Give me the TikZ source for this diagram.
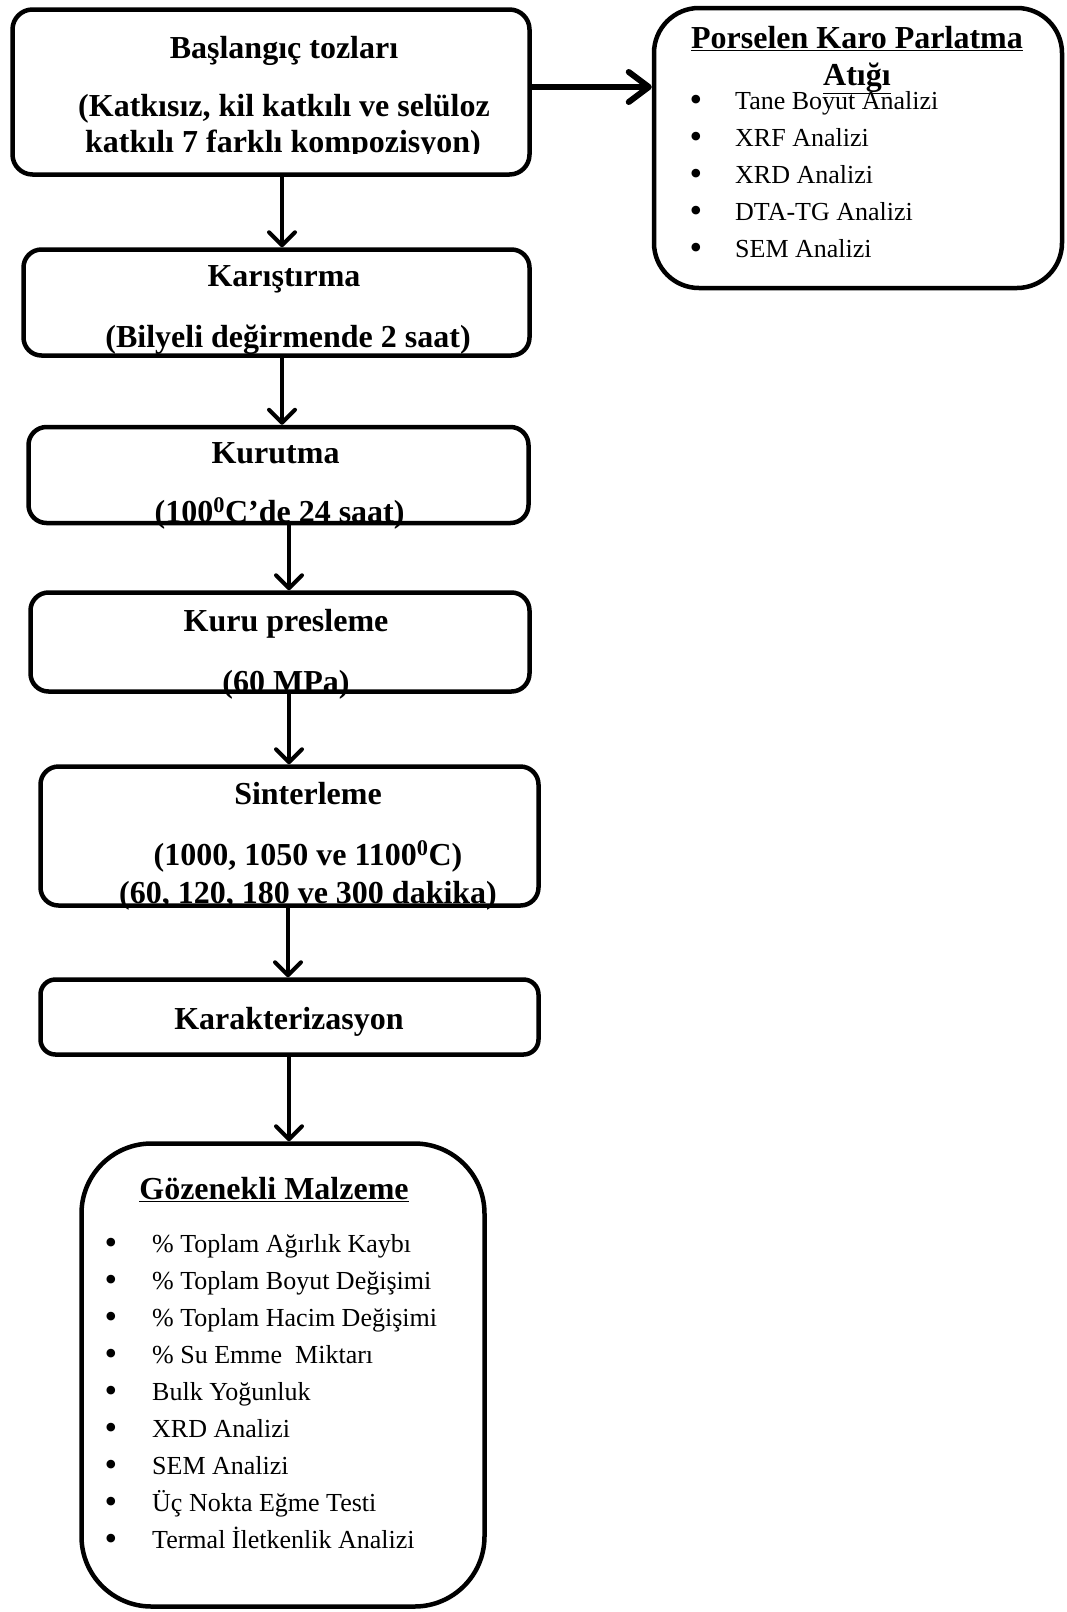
\documentclass[tikz,border=0pt]{standalone}
\usepackage{fontspec}
\setmainfont{Liberation Serif}
\usetikzlibrary{arrows.meta}

\begin{document}
\begin{tikzpicture}[x=1pt,y=-1pt,
  etape/.style={draw,line width=4.5pt,rounded corners=20pt,inner sep=0pt},
  baslik/.style={font=\fontsize{32}{38}\selectfont\bfseries,anchor=base,inner sep=0pt},
  madde/.style={font=\fontsize{26}{30}\selectfont,anchor=base west,inner sep=0pt},
  nokta/.style={font=\fontsize{36}{40}\selectfont,anchor=base,inner sep=0pt},
  fleche/.style={line width=4pt,-{Straight Barb[length=13pt,width=26pt,round]}}]
\useasboundingbox (0,0) rectangle (1067,1612);
% kutular
\node[etape,minimum width=517,minimum height=165] (bas) at (271,92) {};
\node[etape,rounded corners=45pt,minimum width=408,minimum height=280] (atik) at (858,148) {};
\node[etape,rounded corners=18pt,minimum width=506,minimum height=106] (kar) at (276.5,302.5) {};
\node[etape,rounded corners=18pt,minimum width=500,minimum height=96] (kur) at (278.5,475) {};
\node[etape,rounded corners=18pt,minimum width=499,minimum height=99] (pres) at (280,642) {};
\node[etape,rounded corners=18pt,minimum width=498,minimum height=139] (sin) at (289.5,836) {};
\node[etape,rounded corners=15pt,minimum width=498,minimum height=75] (krk) at (289.5,1017) {};
\node[etape,rounded corners=70pt,minimum width=403,minimum height=463] (goz) at (283,1375) {};
% yazilar
\begin{scope}
\clip (10,7) rectangle (532,153);
\node[baslik] (bas1) at (284,58) {Başlangıç tozları};
\node[baslik] (bas2) at (284,116) {(Katkısız, kil katkılı ve selüloz};
\node[baslik] (bas3) at (283,152) {katkılı 7 farklı kompozisyon)};
\end{scope}
\node[baslik] (kar1) at (284,286) {Karıştırma};
\node[baslik] (kar2) at (288,347) {(Bilyeli değirmende 2 saat)};
\node[baslik] (kur1) at (275.5,463) {Kurutma};
\node[baslik] (kur2) at (279.6,522) {(100\textsuperscript{0}C’de 24 saat)};
\node[baslik] (pres1) at (286,631) {Kuru presleme};
\node[baslik] (pres2) at (286,692) {(60 MPa)};
\node[baslik] (sin1) at (308,804) {Sinterleme};
\node[baslik] (sin2) at (308,865) {(1000, 1050 ve 1100\textsuperscript{0}C)};
\node[baslik] (sin3) at (308,903) {(60, 120, 180 ve 300 dakika)};
\node[baslik] (krk1) at (289,1029) {Karakterizasyon};
\node[baslik] (atik1) at (857,48) {\underline{Porselen Karo Parlatma}};
\node[baslik] (atik2) at (857,85) {\underline{Atığı}};
\foreach \yazi [count=\i] in {Tane Boyut Analizi,XRF Analizi,XRD Analizi,DTA-TG Analizi,SEM Analizi}
  {\node[nokta] (ab\i) at (696,111+37*\i-37) {\textbullet};
   \node[madde] (a\i) at (735,109+37*\i-37) {\yazi};}
\node[baslik] (goz1) at (274,1199) {\underline{Gözenekli Malzeme}};
\foreach \yazi [count=\i] in {\% Toplam Ağırlık Kaybı,\% Toplam Boyut Değişimi,\% Toplam Hacim Değişimi,\% Su Emme\ \ Miktarı,Bulk Yoğunluk,XRD Analizi,SEM Analizi,Üç Nokta Eğme Testi,Termal İletkenlik Analizi}
  {\node[nokta] (gb\i) at (111,1254+37.1*\i-37.1) {\textbullet};
   \node[madde] (g\i) at (152,1252+37.1*\i-37.1) {\yazi};}
% oklar
\draw[fleche,line width=6pt,-{Straight Barb[length=20pt,width=30pt,round]}] (bas.east |- 0,87) -- (atik.west |- 0,87);
\draw[fleche] (bas.south -| 282,0) -- (kar.north -| 282,0);
\draw[fleche] (kar.south -| 282,0) -- (kur.north -| 282,0);
\draw[fleche] (kur.south -| 289,0) -- (pres.north -| 289,0);
\draw[fleche] (pres.south -| 289,0) -- (sin.north -| 289,0);
\draw[fleche] (sin.south -| 288,0) -- (krk.north -| 288,0);
\draw[fleche] (krk.south -| 289,0) -- (goz.north -| 289,0);
\end{tikzpicture}
\end{document}
